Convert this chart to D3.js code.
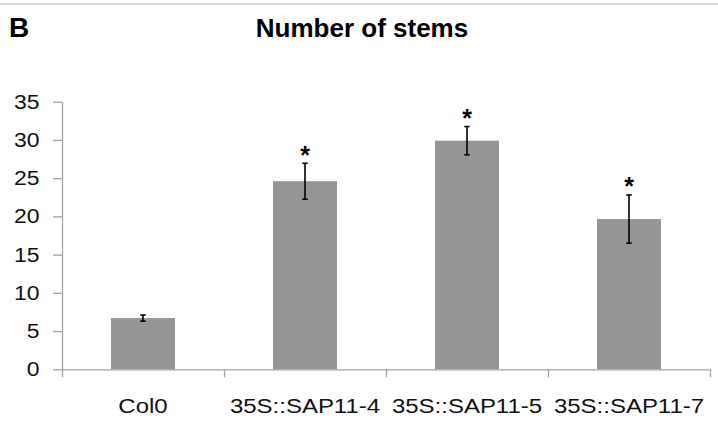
<!DOCTYPE html>
<html>
<head>
<meta charset="utf-8">
<script src="https://cdn.jsdelivr.net/npm/d3@7"></script>
<style>
  body { margin: 0; background: #fff; }
  svg { display: block; font-family: "Liberation Sans", Arial, sans-serif; }
  .axis path, .axis line { stroke: #a3a3a3; stroke-width: 1.3; }
  .axis text { fill: #111; font-size: 20.5px; }
</style>
</head>
<body>
<div id="chart-container"></div>
<script>
// Number of stems, panel B
const lines = ["Col0", "35S::SAP11-4", "35S::SAP11-5", "35S::SAP11-7"];
const stems = [6.7, 24.6, 29.9, 19.65];
const stemsErr = [0.4, 2.35, 1.85, 3.15];
const signif = [false, true, true, true];
const yTicks = [0, 5, 10, 15, 20, 25, 30, 35];

let width = 718,
  height = 424,
  margin = { top: 101.7, right: 8, bottom: 54.7, left: 62 };

const svg = d3
  .select("#chart-container")
  .append("svg")
  .attr("width", width)
  .attr("height", height);

const data = lines.map((d, i) => ({
  name: d,
  value: stems[i],
  err: stemsErr[i],
  star: signif[i],
}));

// thin rule along the top of the figure
svg
  .append("line")
  .attr("x1", 0)
  .attr("x2", width)
  .attr("y1", 4)
  .attr("y2", 4)
  .style("stroke", "#cdcdcd")
  .style("stroke-width", 1.5);

svg
  .append("text")
  .attr("x", 9)
  .attr("y", 36.5)
  .style("font-weight", "bold")
  .style("font-size", "28px")
  .text("B");

svg
  .append("text")
  .attr("x", 362)
  .attr("y", 36.7)
  .attr("text-anchor", "middle")
  .style("font-weight", "bold")
  .style("font-size", "26px")
  .text("Number of stems");

let x = d3
  .scaleBand()
  .domain(lines)
  .range([margin.left, width - margin.right])
  .padding(0);

// boundaries between categories for the tick marks
let xEdge = d3
  .scaleLinear()
  .domain([0, lines.length])
  .range([margin.left, width - margin.right]);

let y = d3
  .scaleLinear()
  .domain([0, 35])
  .range([height - margin.bottom, margin.top]);

const barW = x.bandwidth() * 0.395;

// stretch text horizontally around its anchor point
function widen(sel, s) {
  sel.each(function () {
    const t = d3.select(this);
    const tx = +t.attr("x") || 0;
    t.attr("x", 0).attr("transform", `translate(${tx},0) scale(${s},1)`);
  });
}

svg
  .append("g")
  .attr("class", "axis y-axis")
  .attr("transform", `translate(${margin.left},0)`)
  .call(d3.axisLeft(y).tickValues(yTicks).tickSize(9).tickSizeOuter(0).tickPadding(13.5))
  .call((g) => g.selectAll("text").call(widen, 1.12));

svg
  .append("g")
  .selectAll(".bar")
  .data(data)
  .join("rect")
  .attr("class", "bar")
  .attr("x", (d) => x(d.name) + (x.bandwidth() - barW) / 2)
  .attr("width", barW)
  .attr("y", (d) => y(d.value))
  .attr("height", (d) => y(0) - y(d.value))
  .attr("fill", "#959595");

svg
  .append("g")
  .attr("class", "axis x-axis")
  .attr("transform", `translate(0,${height - margin.bottom})`)
  .call(
    d3
      .axisBottom(xEdge)
      .tickValues(d3.range(lines.length + 1))
      .tickSize(8)
      .tickSizeOuter(0)
      .tickFormat("")
  );

svg
  .append("g")
  .attr("class", "axis x-labels")
  .attr("transform", `translate(0,${height - margin.bottom})`)
  .call(d3.axisBottom(x).tickSize(0).tickPadding(29.3))
  .call((g) => g.select(".domain").remove())
  .call((g) => g.selectAll("text").call(widen, 1.17));

// error bars
const eb = svg
  .append("g")
  .selectAll(".err")
  .data(data)
  .join("g")
  .attr("class", "err")
  .attr("transform", (d) => `translate(${x(d.name) + x.bandwidth() / 2},0)`)
  .style("stroke", "#000")
  .style("stroke-width", 1.6);

eb.append("line")
  .attr("y1", (d) => y(d.value - d.err))
  .attr("y2", (d) => y(d.value + d.err));

eb.append("line")
  .attr("x1", -2.7)
  .attr("x2", 2.7)
  .attr("y1", (d) => y(d.value + d.err))
  .attr("y2", (d) => y(d.value + d.err));

eb.append("line")
  .attr("x1", -2.7)
  .attr("x2", 2.7)
  .attr("y1", (d) => y(d.value - d.err))
  .attr("y2", (d) => y(d.value - d.err));

// significance stars
svg
  .append("g")
  .selectAll(".star")
  .data(data.filter((d) => d.star))
  .join("text")
  .attr("class", "star")
  .attr("x", (d) => x(d.name) + x.bandwidth() / 2)
  .attr("y", (d) => y(d.value + d.err) + 0.5)
  .attr("text-anchor", "middle")
  .style("font-size", "25px")
  .style("font-weight", "bold")
  .text("*");
</script>
</body>
</html>
